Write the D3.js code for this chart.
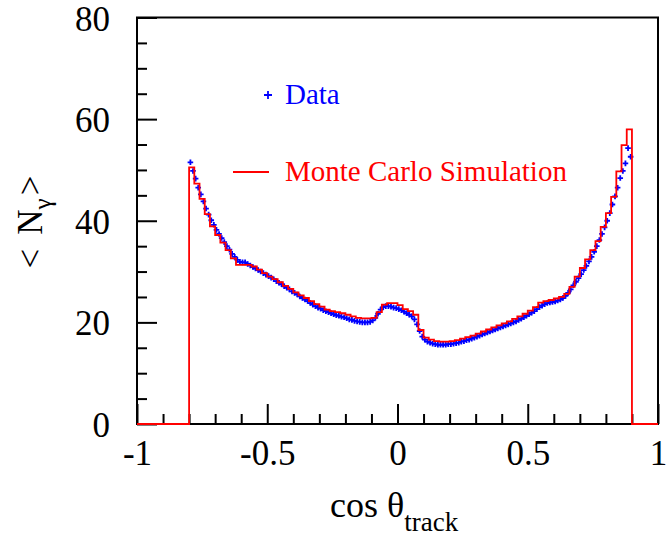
<!DOCTYPE html>
<html>
<head>
<meta charset="utf-8">
<script src="https://cdn.jsdelivr.net/npm/d3@7/dist/d3.min.js"></script>
<style>
  html, body { margin: 0; padding: 0; background: #fff; }
  svg { display: block; }
  text { font-family: "Liberation Serif", "DejaVu Serif", serif; }
</style>
</head>
<body>
<svg id="chart" width="667" height="537"></svg>
<script>
// Monte Carlo <N_gamma> per cos(theta) bin, bins of 0.02 from -0.8 to 0.9
const mcStart = -0.8;
const mcWidth = 0.02;
const mcValues = [
  50.5, 47.3, 44.3, 41.3, 38.9, 37.2, 35.7, 34.2, 32.6, 31.3,
  31.3, 31.3, 31.0, 30.4, 29.7, 29.0, 28.5, 27.9, 27.2, 26.6,
  25.9, 25.3, 24.8, 24.2, 23.6, 23.1, 22.5, 22.2, 22.0, 21.8,
  21.5, 21.2, 20.9, 20.8, 20.8, 20.9, 22.0, 23.5, 23.8, 23.8,
  23.4, 22.6, 22.2, 21.5, 18.5, 17.0, 16.6, 16.3, 16.2, 16.2,
  16.3, 16.5, 16.8, 17.1, 17.4, 17.8, 18.2, 18.6, 19.0, 19.4,
  19.8, 20.2, 20.7, 21.2, 21.7, 22.3, 23.0, 23.9, 24.2, 24.4,
  24.7, 25.0, 25.6, 27.0, 29.0, 30.7, 32.4, 34.2, 36.0, 38.8,
  41.5, 44.7, 49.7, 54.9, 58.0
];

// Measured <N_gamma>, points every 0.01 starting at cos(theta) = -0.795
const dataStart = -0.795;
const dataStep = 0.01;
const dataValues = [
  51.5, 49.8, 48.3, 46.5, 45.2, 43.8, 42.4, 41.2, 40.1, 39.2,
  38.2, 37.4, 36.6, 35.8, 35.0, 34.3, 33.5, 32.9, 32.3, 31.9,
  31.8, 31.8, 31.5, 31.2, 30.9, 30.6, 30.3, 30.0, 29.7, 29.4,
  29.1, 28.8, 28.5, 28.1, 27.8, 27.5, 27.1, 26.8, 26.5, 26.1,
  25.8, 25.5, 25.1, 24.8, 24.5, 24.2, 23.8, 23.5, 23.2, 22.9,
  22.7, 22.4, 22.2, 22.0, 21.8, 21.6, 21.4, 21.3, 21.1, 21.0,
  20.8, 20.6, 20.5, 20.3, 20.2, 20.1, 20.0, 20.0, 20.0, 20.1,
  20.4, 20.9, 21.7, 22.5, 23.0, 23.2, 23.2, 23.1, 22.9, 22.8,
  22.6, 22.4, 22.1, 21.8, 21.5, 21.2, 20.6, 19.6, 18.3, 17.2,
  16.6, 16.2, 16.0, 15.8, 15.7, 15.6, 15.6, 15.6, 15.6, 15.7,
  15.7, 15.8, 15.9, 16.0, 16.2, 16.3, 16.5, 16.6, 16.8, 17.0,
  17.2, 17.4, 17.6, 17.8, 18.0, 18.2, 18.4, 18.6, 18.8, 19.0,
  19.2, 19.4, 19.6, 19.8, 20.0, 20.2, 20.5, 20.7, 21.0, 21.3,
  21.6, 21.9, 22.2, 22.6, 23.0, 23.3, 23.6, 23.8, 23.9, 24.0,
  24.1, 24.3, 24.5, 24.8, 25.2, 25.8, 26.5, 27.3, 28.0, 28.7,
  29.5, 30.3, 31.1, 32.0, 32.9, 33.9, 35.0, 36.2, 37.4, 38.7,
  40.0, 41.5, 43.2, 44.8, 46.5, 48.4, 49.8, 51.3, 54.3, 52.6
];

const xDomain = [-1, 1];
const yDomain = [0, 80];
const xMajorTicks = [-1, -0.5, 0, 0.5, 1];
const xTickLabels = ["-1", "-0.5", "0", "0.5", "1"];
const yMajorTicks = [0, 20, 40, 60, 80];
const yTickLabels = ["0", "20", "40", "60", "80"];

const svg = d3.select("#chart");
const plot = { left: 137, right: 658, top: 17.5, bottom: 424 };

const x = d3.scaleLinear().domain(xDomain).range([plot.left, plot.right]);
const y = d3.scaleLinear().domain(yDomain).range([plot.bottom, plot.top]);

const blue = "#0000ff", red = "#ff0000";
const tickFont = 35;

// frame
svg.append("rect")
  .attr("x", plot.left).attr("y", plot.top)
  .attr("width", plot.right - plot.left).attr("height", plot.bottom - plot.top)
  .attr("fill", "none").attr("stroke", "#000").attr("stroke-width", 2);

// axes with inward ticks
function styleAxis(g) {
  g.select(".domain").remove();
  g.selectAll(".tick line").attr("stroke", "#000").attr("stroke-width", 2);
}
const xMinor = d3.range(-10, 11).map(i => i / 10).filter(v => !xMajorTicks.includes(v));
const yMinor = d3.range(0, 81, 5).filter(v => !yMajorTicks.includes(v));

svg.append("g").attr("transform", `translate(0,${plot.bottom})`)
  .call(d3.axisBottom(x).tickValues(xMinor).tickSize(-10).tickFormat(""))
  .call(styleAxis);
svg.append("g").attr("transform", `translate(0,${plot.bottom})`)
  .call(d3.axisBottom(x).tickValues(xMajorTicks).tickSize(-20).tickPadding(16)
    .tickFormat((d, i) => xTickLabels[i]))
  .call(styleAxis)
  .call(g => g.selectAll("text").attr("fill", "#000").attr("font-size", tickFont)
    .attr("font-family", "Liberation Serif"));

svg.append("g").attr("transform", `translate(${plot.left},0)`)
  .call(d3.axisLeft(y).tickValues(yMinor).tickSize(-10).tickFormat(""))
  .call(styleAxis);
svg.append("g").attr("transform", `translate(${plot.left},0)`)
  .call(d3.axisLeft(y).tickValues(yMajorTicks).tickSize(-20).tickPadding(27)
    .tickFormat((d, i) => yTickLabels[i]))
  .call(styleAxis)
  .call(g => g.selectAll("text").attr("fill", "#000").attr("font-size", tickFont)
    .attr("font-family", "Liberation Serif").attr("dy", "0.36em"));

// data crosses
const data = dataValues.map((v, i) => ({ c: dataStart + i * dataStep, v }));
const crosses = svg.append("g").attr("stroke", blue).attr("stroke-width", 1.8);
crosses.selectAll("path").data(data).join("path")
  .attr("d", d => {
    const px = x(d.c), py = y(d.v), h = 2.8;
    return `M${px - h},${py}H${px + h}M${px},${py - h}V${py + h}`;
  });

// Monte Carlo histogram as a step outline, drawn over the axis line
const histPts = [{ c: xDomain[0], v: 0 }];
mcValues.forEach((v, i) => histPts.push({ c: mcStart + i * mcWidth, v }));
histPts.push({ c: mcStart + mcValues.length * mcWidth, v: 0 });
histPts.push({ c: xDomain[1], v: 0 });
svg.append("path")
  .datum(histPts)
  .attr("fill", "none")
  .attr("stroke", red)
  .attr("stroke-width", 1.8)
  .attr("d", d3.line().x(d => x(d.c)).y(d => y(d.v)).curve(d3.curveStepAfter));

// axis titles
const xt = svg.append("text").attr("x", 330).attr("y", 517)
  .attr("font-size", 36).attr("fill", "#000");
xt.append("tspan").text("cos θ");
xt.append("tspan").attr("font-size", 27).attr("dy", 14).text("track");

const yt = svg.append("text")
  .attr("transform", "translate(42,222) rotate(-90)")
  .attr("text-anchor", "middle").attr("font-size", 35).attr("fill", "#000");
yt.append("tspan").text("<");
yt.append("tspan").attr("dx", 14).text("N");
yt.append("tspan").attr("font-size", 25).attr("dy", 9).text("γ");
yt.append("tspan").attr("dy", -9).attr("dx", 3).text(">");

// legend
const lg = svg.append("g");
lg.append("path")
  .attr("d", "M264,95H272M268,91V99")
  .attr("stroke", blue).attr("stroke-width", 1.8);
lg.append("text").attr("x", 285).attr("y", 104)
  .attr("font-size", 29).attr("fill", blue).text("Data");
lg.append("line").attr("x1", 233).attr("x2", 269).attr("y1", 172).attr("y2", 172)
  .attr("stroke", red).attr("stroke-width", 1.8);
lg.append("text").attr("x", 285).attr("y", 181)
  .attr("font-size", 29).attr("fill", red).text("Monte Carlo Simulation");
</script>
</body>
</html>
